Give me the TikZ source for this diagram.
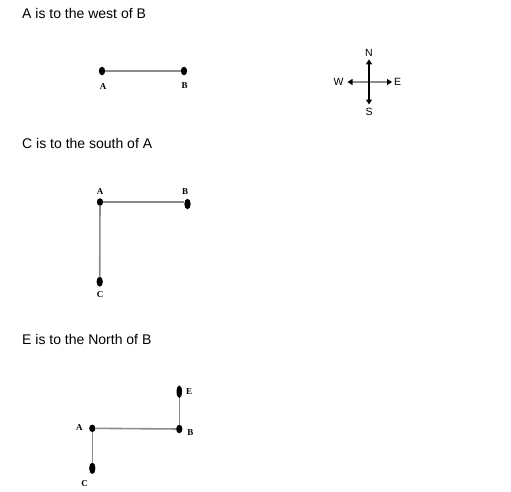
\documentclass[tikz,border=0pt]{standalone}
\usepackage{fontspec}
\setmainfont{Liberation Serif}
\setsansfont{Liberation Sans}
\usepackage{tikz}
\usetikzlibrary{arrows.meta,positioning,calc,shapes.geometric}
\colorlet{lnk}{black!45}
\tikzset{
  pt/.style={ellipse,fill=black,inner sep=0pt,minimum width=6.3pt,minimum height=#1},
  pt/.default=8.5pt,
  lbl/.style={font=\bfseries\fontsize{9}{9}\selectfont,inner sep=0pt,text height=6pt,text depth=0pt},
  ttl/.style={font=\sffamily\fontsize{14}{16}\selectfont,anchor=base west,inner sep=0pt},
  cmp/.style={font=\sffamily\fontsize{10.5}{11}\selectfont,inner sep=0pt,text height=7.5pt,text depth=0pt},
  seg/.style={lnk,line width=1.6pt},
  tip/.style={{Triangle[length=5pt,width=6pt,color=black]}-{Triangle[length=5pt,width=6pt,color=black]}}
}
\begin{document}
\begin{tikzpicture}[x=1pt,y=-1pt]
\useasboundingbox (0,0) rectangle (511,491);
% A west of B
\node[ttl] (t1) at (22,18.3) {A is to the west of B};
\node[pt] (a1) at (102,71) {};
\node[pt] (b1) at (184,71) {};
\draw[seg] (a1) -- (b1);
\node[lbl] (la1) at (103,86.7) {A};
\node[lbl] (lb1) at (184.5,85) {B};
% compass
\node[cmp] (n) at (369,53) {N};
\node[cmp] (s) at (369,111.7) {S};
\node[cmp] (w) at (338.5,82) {W};
\node[cmp] (e) at (397.5,82) {E};
\coordinate (cn) at (369,59.3);
\coordinate (cs) at (369,104.5);
\coordinate (cw) at (347.5,82);
\coordinate (ce) at (392,82);
\draw[lnk,line width=1.5pt,tip] (cw) -- (ce);
\draw[black,line width=1.2pt,tip] (cs) -- (cn);
% C south of A
\node[ttl] (t2) at (22,148.3) {C is to the south of A};
\node[pt=7.5pt] (a2) at (100,202) {};
\node[pt=10.5pt] (b2) at (187.5,204) {};
\node[pt=10pt] (c2) at (99.7,281.7) {};
\draw[seg] (a2) -- (a2 -| b2.west);
\draw[seg] (a2) -- (c2);
\node[lbl] (la2) at (100,191.7) {A};
\node[lbl] (lb2) at (185,191.7) {B};
\node[lbl] (lc2) at (100,294) {C};
% E north of B
\node[ttl] (t3) at (22,344) {E is to the North of B};
\node[pt=7.5pt] (a3) at (92.3,428.3) {};
\node[pt] (b3) at (179.3,429) {};
\node[pt=12.5pt,minimum width=5.5pt] (e3) at (179.3,391.7) {};
\node[pt=11.5pt] (c3) at (92.3,468.3) {};
\draw[seg] (a3) -- (b3);
\draw[seg] (b3) -- (e3);
\draw[seg] (a3) -- (c3);
\node[lbl] (la3) at (79.3,427.7) {A};
\node[lbl] (lb3) at (190.3,432) {B};
\node[lbl] (le3) at (189,391.7) {E};
\node[lbl] (lc3) at (84.7,483.5) {C};
\end{tikzpicture}
\end{document}
